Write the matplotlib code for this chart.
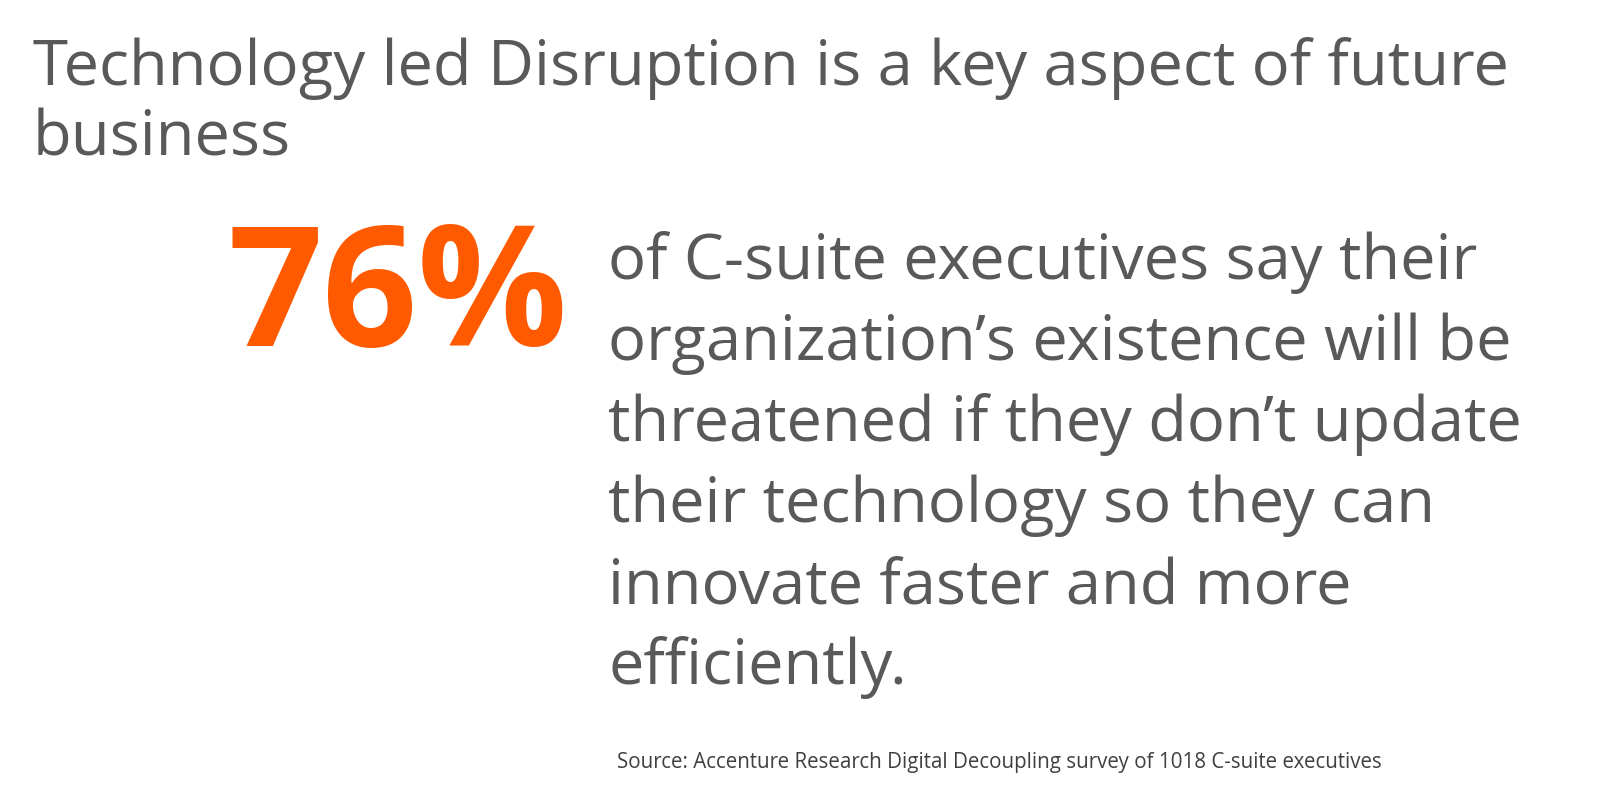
import matplotlib.pyplot as plt

title_lines = ["Technology led Disruption is a key aspect of future", "business"]
stat = "76%"
body_lines = [
    "of C-suite executives say their",
    "organization\u2019s existence will be",
    "threatened if they don\u2019t update",
    "their technology so they can",
    "innovate faster and more",
    "efficiently.",
]
source = "Source: Accenture Research Digital Decoupling survey of 1018 C-suite executives"

W, H = 1600, 811
fig = plt.figure(figsize=(16, 8.11), dpi=100)
fig.patch.set_facecolor("white")
grey = "#595959"
font = "Open Sans"


def px(x, y):
    return x / W, 1 - y / H


for i, line in enumerate(title_lines):
    fig.text(*px(33, 85 + i * 70), line, fontsize=45.5, color=grey,
             family=font, va="baseline", ha="left")

fig.text(*px(228, 346), stat, fontsize=120, color="#FF5A00",
         family=font, weight="bold", va="baseline", ha="left")

for i, line in enumerate(body_lines):
    fig.text(*px(608, 279 + i * 81), line, fontsize=45.5, color=grey,
             family=font, va="baseline", ha="left")

fig.text(*px(617, 768), source, fontsize=14.8, color="#404040",
         family=font, va="baseline", ha="left")

fig.savefig("out.png", dpi=100, facecolor="white")
